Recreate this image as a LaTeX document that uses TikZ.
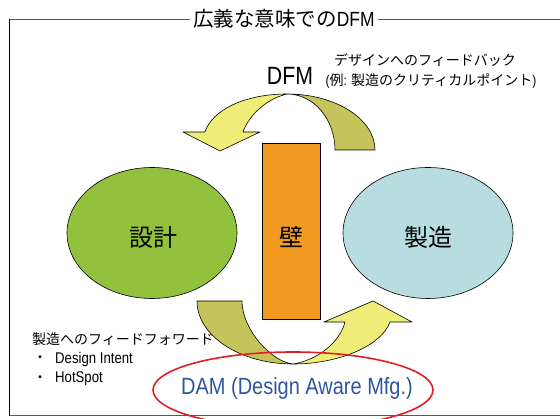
\documentclass[tikz,border=0pt]{standalone}
\usepackage{fontspec}
\setmainfont{Liberation Sans}
\newfontfamily\jp{Noto Sans CJK JP}
\newfontfamily\narrow[FakeStretch=0.85]{Liberation Sans}
\usetikzlibrary{shapes.geometric}
\definecolor{lightY}{RGB}{240,236,120}
\definecolor{darkY}{RGB}{196,196,90}
\definecolor{greenE}{RGB}{146,193,62}
\definecolor{blueE}{RGB}{183,221,224}
\definecolor{wallO}{RGB}{243,154,33}
\definecolor{damred}{RGB}{226,30,36}
\definecolor{damblue}{RGB}{48,84,160}
\definecolor{framegray}{RGB}{90,90,90}
\tikzset{
  bigtxt/.style={inner sep=0, font=\jp\fontsize{24}{24}\selectfont},
  blob/.style={ellipse, draw=black, line width=0.6pt, minimum width=170, minimum height=131, inner sep=0},
  band/.style={draw=black, line width=0.6pt, line join=round},
  smalljp/.style={inner sep=0, font=\jp\fontsize{14}{14}\selectfont},
  smalllat/.style={inner sep=0, font=\narrow\fontsize{15.5}{15.5}\selectfont},
}
\begin{document}
\begin{tikzpicture}[x=1pt, y=-1pt]
\useasboundingbox (0,0) rectangle (560,419);
\clip (0,0) rectangle (560,419);
% frame
\draw[framegray, line width=1.8pt] (9,19.5) -- (562,19.5);
\draw[framegray, line width=1.8pt] (9,415.5) -- (562,415.5);
\draw[black, line width=1.4pt] (9.5,19) -- (9.5,416);
\node[fill=white, inner xsep=3pt, inner ysep=2pt, font=\fontsize{20.5}{20.5}\selectfont] (title) at (284,19) {{\jp 広義な意味での}{\narrow DFM}};
% ellipses and wall
\node[blob, fill=greenE] (design) at (152,233) {};
\node[blob, fill=blueE] (mfg) at (428,233) {};
\node[draw=black, line width=0.6pt, fill=wallO, minimum width=58, minimum height=176, inner sep=0] (wall) at (291,231) {};
\node[bigtxt] (designtxt) at (153,237) {設計};
\node[bigtxt] (mfgtxt) at (428,237) {製造};
\node[bigtxt] (walltxt) at (291,237) {壁};
% upper arrow (feedback)
\coordinate (P) at (287,94);
\filldraw[band, fill=darkY] (P) .. controls (335.6,94) and (375,119.1) .. (375,150)
  -- (335,150) .. controls (335,119.1) and (313.5,94) .. (P) -- cycle;
\filldraw[band, fill=lightY] (P) .. controls (245,94) and (212,110) .. (205,132)
  -- (183,132) -- (220,151) -- (260,132) -- (243,132)
  .. controls (247,120) and (262,100) .. (P) -- cycle;
% lower arrow (feed forward)
\coordinate (Q) at (293,364);
\filldraw[band, fill=darkY] (197,301) .. controls (197,335.8) and (240,364) .. (Q)
  .. controls (272,362) and (242,330) .. (242,301) -- cycle;
\filldraw[band, fill=lightY] (Q) .. controls (340,364) and (382,345) .. (390,322)
  -- (412,322) -- (373,301) -- (324,322) -- (345,322)
  .. controls (340,342) and (318,360) .. (Q) -- cycle;
% texts
\node[inner sep=0, font=\narrow\fontsize{25}{25}\selectfont] (dfm) at (290,76) {DFM};
\node[smalljp] (fb1) at (425,60) {デザインへのフィードバック};
\node[smalljp] (fb2) at (431,81) {{\narrow (}例{\narrow :} 製造のクリティカルポイント{\narrow )}};
\node[smalljp, anchor=west] (ff) at (32,339) {製造へのフィードフォワード};
\node[smalljp] (b1) at (40,359) {・};
\node[smalljp] (b2) at (40,379) {・};
\node[smalllat, anchor=west] (di) at (55,359) {Design Intent};
\node[smalllat, anchor=west] (hs) at (55,379) {HotSpot};
% DAM
\node[ellipse, draw=damred, line width=1.6pt, minimum width=280, minimum height=76, inner sep=0] (dam) at (293,390) {};
\node[inner sep=0, text=damblue, font=\narrow\fontsize{23.5}{23.5}\selectfont] (damtxt) at (297,388) {DAM (Design Aware Mfg.)};
\end{tikzpicture}
\end{document}
